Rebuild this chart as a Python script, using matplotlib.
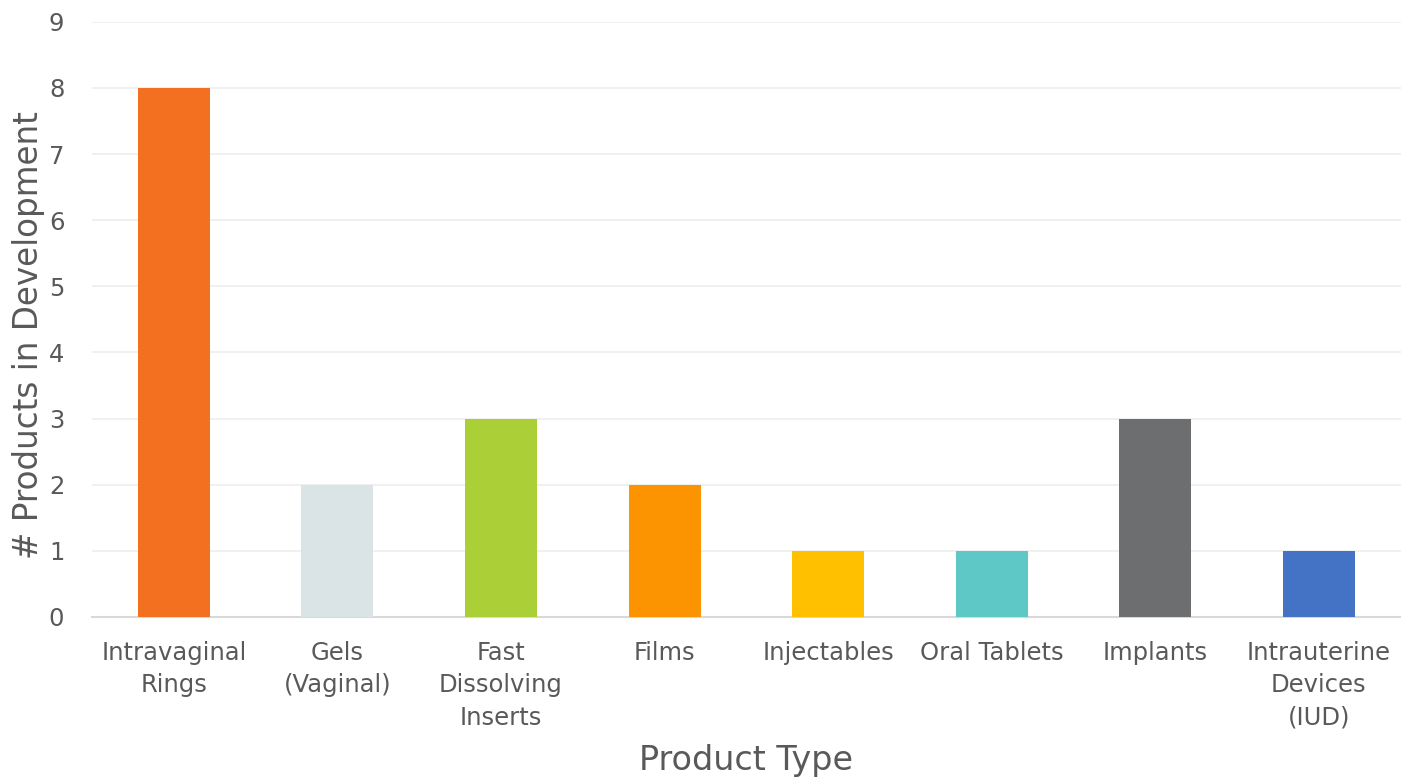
import matplotlib.pyplot as plt

categories = ["Intravaginal\nRings", "Gels\n(Vaginal)", "Fast\nDissolving\nInserts", "Films",
              "Injectables", "Oral Tablets", "Implants", "Intrauterine\nDevices\n(IUD)"]
counts = [8, 2, 3, 2, 1, 1, 3, 1]
colors = ["#F37021", "#DAE3E5", "#ABCF37", "#FC9300", "#FFC000", "#5EC8C6", "#6D6E70", "#4472C4"]
yticks = list(range(0, 10))

plt.rcParams["font.family"] = ["DejaVu Sans"]
txt = "#595959"

fig = plt.figure(figsize=(14.01, 7.78), dpi=100)
ax = fig.add_axes([0.0657, 0.207, 0.934, 0.765])

x = range(len(categories))
ax.bar(x, counts, width=0.44, color=colors, zorder=3)

ax.set_xlim(-0.5, len(categories) - 0.5)
ax.set_ylim(0, 9)
ax.set_yticks(yticks)
ax.set_xticks(list(x))
ax.set_xticklabels(categories, fontsize=17.5, color=txt, linespacing=1.45)
ax.tick_params(axis="y", labelsize=17.5, labelcolor=txt, length=0, pad=20)
ax.tick_params(axis="x", length=0, pad=17)

ax.grid(axis="y", color="#EEEEEE", linewidth=1.2, zorder=0)
for s in ["top", "right", "left"]:
    ax.spines[s].set_visible(False)
ax.spines["bottom"].set_color("#D9D9D9")
ax.spines["bottom"].set_linewidth(1.5)

ax.set_ylabel("# Products in Development", fontsize=23.5, color=txt)
ax.yaxis.set_label_coords(-0.036, 0.474)
ax.set_xlabel("Product Type", fontsize=24, color=txt, labelpad=10)

fig.savefig("out.png", dpi=100)
